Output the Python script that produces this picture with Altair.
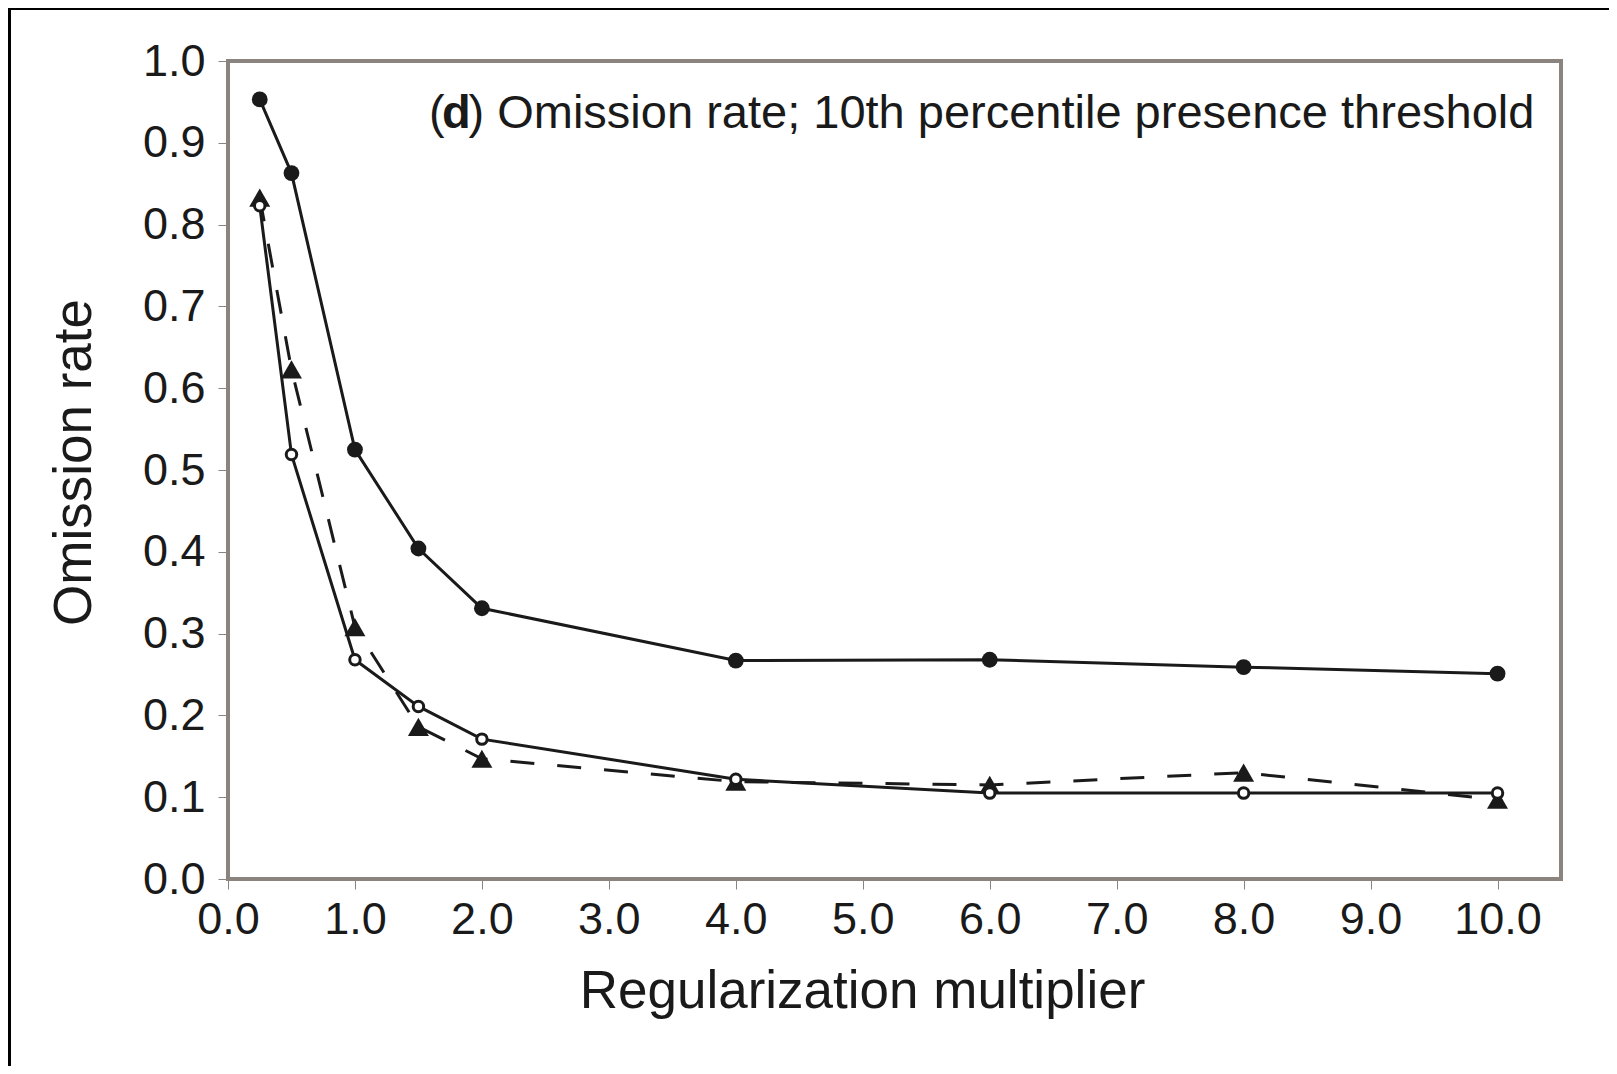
import altair as alt
import pandas as pd

# ---- data ----
reg_mult = [0.25, 0.5, 1.0, 1.5, 2.0, 4.0, 6.0, 8.0, 10.0]
omission_filled = [0.953, 0.863, 0.525, 0.404, 0.331, 0.267, 0.268, 0.259, 0.251]
omission_open = [0.823, 0.519, 0.268, 0.211, 0.171, 0.122, 0.105, 0.105, 0.105]
omission_triangle = [0.833, 0.623, 0.308, 0.186, 0.147, 0.119, 0.115, 0.130, 0.097]

x_ticks = [0, 1, 2, 3, 4, 5, 6, 7, 8, 9, 10]
y_ticks = [0.0, 0.1, 0.2, 0.3, 0.4, 0.5, 0.6, 0.7, 0.8, 0.9, 1.0]

title_open = "("
title_letter = "d"
title_rest = ") Omission rate; 10th percentile presence threshold"
x_title = "Regularization multiplier"
y_title = "Omission rate"

FONT = "Liberation Sans"
INK = "#1a1a1a"
FRAME = "#8a837e"

df_filled = pd.DataFrame({"x": reg_mult, "y": omission_filled})
df_open = pd.DataFrame({"x": reg_mult, "y": omission_open})
df_tri = pd.DataFrame({"x": reg_mult, "y": omission_triangle})
one = pd.DataFrame({"k": [0]})

X = alt.X(
    "x:Q",
    scale=alt.Scale(domain=[0, 10.5], nice=False, zero=False),
    axis=alt.Axis(
        values=x_ticks, format=".1f", title=x_title, grid=False, domain=False,
        tickSize=10, tickWidth=1, tickColor=FRAME,
        labelFont=FONT, labelFontSize=45, labelColor=INK,
        labelBaseline="alphabetic", labelPadding=44, labelFlush=False, labelOverlap=False,
        titleFont=FONT, titleFontSize=53, titleFontWeight="normal", titleColor=INK,
        titleX=634, titleY=128, titleBaseline="alphabetic", titleAlign="center",
    ),
)
Y = alt.Y(
    "y:Q",
    scale=alt.Scale(domain=[0, 1], nice=False),
    axis=alt.Axis(
        values=y_ticks, format=".1f", title=y_title, grid=False, domain=False,
        tickSize=10, tickWidth=1, tickColor=FRAME,
        labelFont=FONT, labelFontSize=45, labelColor=INK, labelPadding=13,
        labelOverlap=False,
        titleFont=FONT, titleFontSize=53, titleFontWeight="normal", titleColor=INK,
        titleX=-138, titleY=401, titleAngle=270, titleBaseline="alphabetic",
        titleAlign="center",
    ),
)

# outer panel border (black left and top edges)
left_edge = alt.Chart(one).mark_rect(color="black").encode(
    x=alt.value(-220), x2=alt.value(-217), y=alt.value(-53), y2=alt.value(1010)
)
top_edge = alt.Chart(one).mark_rect(color="black").encode(
    x=alt.value(-220), x2=alt.value(1400), y=alt.value(-53), y2=alt.value(-51)
)

line_tri = alt.Chart(df_tri).mark_line(
    color=INK, strokeWidth=3, strokeDash=[24, 23]
).encode(x=X, y=Y)
line_open = alt.Chart(df_open).mark_line(color=INK, strokeWidth=3).encode(x=X, y=Y)
line_filled = alt.Chart(df_filled).mark_line(color=INK, strokeWidth=3).encode(x=X, y=Y)

pts_tri = alt.Chart(df_tri).mark_point(
    shape="triangle-up", filled=True, color=INK, size=440, opacity=1
).encode(x=X, y=Y)
pts_open = alt.Chart(df_open).mark_point(
    shape="circle", filled=True, fill="white", stroke=INK, strokeWidth=3, size=110, opacity=1
).encode(x=X, y=Y)
pts_filled = alt.Chart(df_filled).mark_point(
    shape="circle", filled=True, color=INK, size=250, opacity=1
).encode(x=X, y=Y)

t1 = alt.Chart(one).mark_text(
    text=title_open, align="left", baseline="alphabetic", font=FONT, fontSize=47, color=INK
).encode(x=alt.value(201), y=alt.value(67))
t2 = alt.Chart(one).mark_text(
    text=title_letter, align="left", baseline="alphabetic", font=FONT, fontSize=47,
    fontWeight="bold", color=INK
).encode(x=alt.value(214), y=alt.value(67))
t3 = alt.Chart(one).mark_text(
    text=title_rest, align="left", baseline="alphabetic", font=FONT, fontSize=47, color=INK
).encode(x=alt.value(240.5), y=alt.value(67))

chart = alt.layer(
    line_tri, line_open, line_filled, pts_tri, pts_open, pts_filled,
    t1, t2, t3, left_edge, top_edge,
).properties(
    width=1333,
    height=818,
    autosize=alt.AutoSizeParams(type="none"),
    padding={"left": 220, "top": 53, "right": 48, "bottom": 187},
    background="white",
).configure_view(stroke=FRAME, strokeWidth=4)

chart.save("out.html", embed_options={"renderer": "svg", "actions": False})
